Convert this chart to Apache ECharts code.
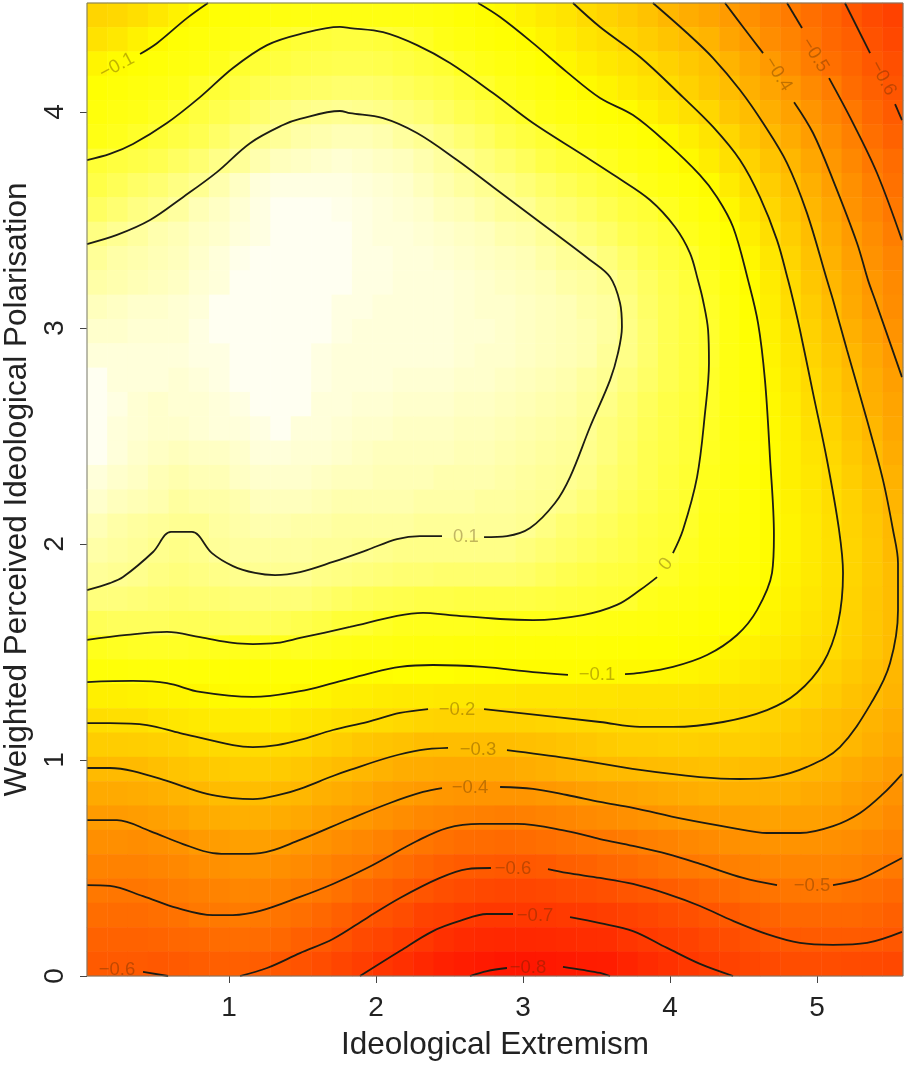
<!DOCTYPE html>
<html>
<head>
<meta charset="utf-8">
<title>Ideological Extremism contour</title>
<script src="https://cdn.jsdelivr.net/npm/echarts@6/dist/echarts.min.js"></script>
<style>
  html, body { margin: 0; padding: 0; background: #fff; }
  #chart-container { width: 907px; height: 1071px; }
</style>
</head>
<body>
<div id="chart-container"></div>
<script>
// fitted surface: 40 rows top to bottom, 40 columns left to right
var zRows = [
[-.22,-.21,-.19,-.16,-.13,-.10,-.08,-.07,-.06,-.05,-.045,-.04,-.04,-.04,-.04,-.045,-.05,-.06,-.08,-.095,-.11,-.13,-.155,-.175,-.2,-.225,-.25,-.275,-.31,-.34,-.365,-.395,-.43,-.465,-.495,-.53,-.565,-.605,-.64,-.67],
[-.18,-.16,-.13,-.105,-.08,-.065,-.05,-.035,-.02,0,.01,.015,.02,.02,.015,.005,-.01,-.03,-.05,-.07,-.085,-.10,-.125,-.145,-.17,-.19,-.22,-.245,-.27,-.295,-.32,-.365,-.395,-.44,-.47,-.51,-.55,-.58,-.62,-.65],
[-.12,-.10,-.085,-.07,-.055,-.04,-.02,0,.01,.02,.03,.035,.04,.04,.035,.025,.015,.005,-.015,-.03,-.05,-.07,-.09,-.115,-.14,-.16,-.18,-.20,-.23,-.255,-.28,-.32,-.36,-.40,-.445,-.49,-.53,-.56,-.60,-.63],
[-.085,-.07,-.055,-.04,-.025,-.005,.01,.025,.04,.05,.055,.06,.065,.065,.06,.05,.04,.03,.015,0,-.02,-.04,-.06,-.085,-.105,-.125,-.15,-.17,-.195,-.23,-.26,-.29,-.33,-.365,-.405,-.45,-.49,-.54,-.575,-.61],
[-.06,-.045,-.03,-.015,0,.02,.035,.05,.065,.08,.09,.095,.10,.095,.09,.08,.07,.055,.04,.025,.01,-.01,-.03,-.05,-.07,-.085,-.10,-.13,-.16,-.185,-.215,-.26,-.29,-.335,-.375,-.415,-.46,-.505,-.55,-.59],
[-.035,-.02,-.005,.01,.025,.04,.06,.08,.095,.105,.115,.12,.125,.125,.12,.11,.10,.085,.07,.055,.035,.02,.005,-.015,-.035,-.05,-.065,-.085,-.11,-.14,-.175,-.215,-.26,-.30,-.345,-.39,-.435,-.48,-.53,-.57],
[.01,.02,.03,.04,.055,.07,.09,.105,.12,.13,.135,.14,.145,.14,.135,.13,.12,.11,.095,.08,.065,.05,.03,.015,.005,-.015,-.035,-.055,-.08,-.11,-.145,-.185,-.225,-.27,-.31,-.36,-.41,-.455,-.505,-.54],
[.03,.045,.06,.07,.085,.10,.12,.135,.15,.155,.155,.155,.155,.15,.145,.14,.13,.12,.11,.10,.09,.075,.06,.045,.03,.015,0,-.025,-.05,-.075,-.10,-.15,-.195,-.24,-.285,-.33,-.385,-.43,-.48,-.525],
[.055,.07,.085,.095,.11,.125,.135,.145,.155,.165,.165,.165,.16,.155,.15,.145,.14,.13,.125,.115,.105,.10,.08,.07,.055,.04,.02,.01,-.015,-.045,-.075,-.115,-.165,-.215,-.26,-.31,-.36,-.42,-.46,-.505],
[.085,.10,.11,.12,.125,.135,.14,.15,.155,.165,.165,.165,.165,.155,.15,.15,.145,.14,.135,.13,.12,.115,.105,.09,.075,.06,.04,.025,.01,-.02,-.05,-.09,-.14,-.19,-.24,-.29,-.345,-.395,-.44,-.485],
[.105,.115,.12,.125,.13,.14,.15,.16,.165,.165,.165,.165,.165,.155,.155,.15,.15,.145,.14,.135,.13,.125,.115,.105,.10,.08,.06,.04,.02,.005,-.03,-.07,-.115,-.165,-.22,-.275,-.325,-.38,-.425,-.465],
[.115,.12,.125,.13,.135,.145,.15,.165,.165,.165,.165,.165,.165,.155,.155,.15,.15,.15,.145,.14,.135,.13,.125,.115,.11,.10,.075,.055,.035,.015,-.015,-.055,-.10,-.15,-.205,-.26,-.31,-.36,-.41,-.45],
[.13,.135,.14,.14,.145,.15,.165,.165,.165,.165,.165,.165,.155,.155,.15,.15,.15,.15,.145,.14,.14,.135,.13,.125,.115,.11,.085,.06,.04,.02,-.005,-.045,-.09,-.14,-.195,-.245,-.295,-.35,-.395,-.44],
[.14,.14,.145,.145,.145,.155,.165,.165,.165,.165,.165,.165,.155,.15,.15,.15,.15,.15,.145,.145,.14,.135,.13,.125,.12,.11,.09,.065,.04,.02,0,-.04,-.085,-.13,-.18,-.23,-.28,-.33,-.375,-.42],
[.15,.15,.15,.15,.15,.155,.155,.165,.165,.165,.165,.155,.15,.15,.15,.15,.15,.15,.145,.14,.14,.135,.13,.125,.12,.105,.09,.065,.04,.02,0,-.04,-.075,-.125,-.17,-.22,-.265,-.31,-.355,-.40],
[.165,.15,.15,.15,.145,.15,.155,.165,.165,.165,.165,.155,.15,.15,.15,.145,.145,.145,.14,.14,.135,.13,.125,.12,.11,.10,.08,.06,.04,.02,-.005,-.04,-.075,-.115,-.16,-.205,-.25,-.295,-.34,-.385],
[.165,.155,.145,.14,.145,.145,.15,.155,.165,.165,.165,.15,.15,.145,.145,.14,.14,.14,.135,.135,.13,.125,.12,.115,.105,.09,.07,.05,.03,.015,-.005,-.04,-.07,-.11,-.15,-.195,-.24,-.28,-.33,-.37],
[.165,.15,.145,.14,.14,.145,.15,.15,.155,.165,.15,.15,.145,.14,.14,.135,.135,.135,.13,.13,.125,.12,.115,.11,.10,.08,.065,.045,.03,.01,-.01,-.04,-.07,-.105,-.14,-.185,-.225,-.27,-.31,-.36],
[.165,.15,.14,.135,.13,.135,.135,.14,.15,.15,.145,.145,.14,.135,.13,.13,.13,.13,.125,.125,.12,.115,.11,.105,.095,.08,.06,.04,.025,.01,-.015,-.04,-.065,-.10,-.135,-.175,-.21,-.255,-.295,-.345],
[.15,.14,.135,.125,.12,.125,.125,.135,.14,.14,.14,.135,.13,.13,.125,.125,.125,.12,.12,.12,.115,.11,.105,.10,.09,.07,.055,.04,.02,.005,-.02,-.045,-.07,-.10,-.135,-.165,-.20,-.24,-.28,-.325],
[.14,.13,.125,.12,.11,.115,.115,.12,.13,.13,.13,.125,.12,.12,.12,.12,.115,.115,.115,.11,.11,.105,.10,.09,.075,.06,.045,.03,.015,0,-.025,-.045,-.07,-.10,-.13,-.16,-.195,-.23,-.27,-.315],
[.125,.115,.11,.105,.10,.10,.11,.115,.12,.12,.115,.115,.11,.11,.11,.11,.105,.105,.105,.105,.105,.10,.085,.07,.06,.05,.035,.02,.01,-.005,-.03,-.05,-.07,-.10,-.125,-.155,-.19,-.225,-.26,-.305],
[.115,.11,.105,.095,.09,.095,.105,.11,.11,.11,.11,.105,.105,.10,.095,.09,.09,.09,.09,.09,.09,.08,.07,.06,.05,.04,.03,.015,.005,-.015,-.035,-.055,-.075,-.10,-.125,-.155,-.185,-.22,-.255,-.30],
[.105,.10,.095,.085,.08,.085,.09,.095,.10,.10,.10,.09,.085,.08,.075,.07,.07,.065,.065,.065,.065,.06,.05,.04,.03,.02,.015,.005,-.01,-.025,-.045,-.065,-.08,-.10,-.13,-.155,-.185,-.22,-.255,-.29],
[.08,.08,.075,.07,.065,.07,.07,.075,.075,.075,.075,.065,.055,.045,.04,.035,.03,.03,.025,.025,.025,.025,.02,.015,.01,.005,0,-.02,-.03,-.045,-.06,-.08,-.09,-.115,-.14,-.165,-.19,-.225,-.26,-.29],
[.045,.05,.05,.05,.045,.045,.045,.05,.05,.045,.035,.025,.01,.005,-.01,-.02,-.02,-.02,-.02,-.025,-.03,-.03,-.03,-.03,-.035,-.04,-.05,-.055,-.065,-.07,-.085,-.09,-.10,-.125,-.15,-.175,-.195,-.23,-.26,-.29],
[-.02,-.015,-.01,-.01,-.01,-.015,-.02,-.02,-.02,-.02,-.015,-.02,-.03,-.04,-.045,-.055,-.06,-.06,-.065,-.065,-.07,-.07,-.075,-.075,-.075,-.08,-.085,-.09,-.09,-.095,-.10,-.12,-.13,-.145,-.165,-.19,-.205,-.235,-.265,-.295],
[-.07,-.07,-.065,-.065,-.07,-.075,-.08,-.08,-.08,-.08,-.08,-.085,-.09,-.095,-.095,-.09,-.09,-.09,-.095,-.095,-.10,-.10,-.10,-.10,-.10,-.105,-.11,-.11,-.115,-.12,-.13,-.14,-.155,-.17,-.185,-.205,-.23,-.255,-.28,-.31],
[-.135,-.135,-.13,-.125,-.12,-.115,-.105,-.10,-.10,-.10,-.115,-.12,-.135,-.14,-.15,-.155,-.155,-.16,-.16,-.165,-.165,-.17,-.17,-.17,-.175,-.175,-.18,-.18,-.18,-.18,-.185,-.19,-.195,-.195,-.20,-.225,-.25,-.275,-.295,-.32],
[-.195,-.19,-.19,-.175,-.165,-.155,-.15,-.15,-.145,-.15,-.165,-.175,-.185,-.195,-.20,-.21,-.22,-.225,-.225,-.225,-.225,-.225,-.22,-.215,-.21,-.205,-.205,-.20,-.20,-.20,-.20,-.205,-.22,-.23,-.245,-.265,-.285,-.30,-.32,-.345],
[-.245,-.245,-.24,-.235,-.225,-.21,-.205,-.20,-.20,-.205,-.21,-.23,-.245,-.26,-.27,-.28,-.29,-.29,-.29,-.29,-.29,-.285,-.28,-.27,-.26,-.25,-.24,-.24,-.235,-.235,-.24,-.24,-.24,-.25,-.26,-.27,-.29,-.31,-.335,-.36],
[-.30,-.30,-.30,-.285,-.27,-.26,-.25,-.245,-.245,-.25,-.26,-.28,-.295,-.31,-.325,-.34,-.345,-.35,-.35,-.35,-.35,-.34,-.33,-.32,-.31,-.30,-.30,-.295,-.29,-.285,-.28,-.285,-.29,-.295,-.30,-.31,-.325,-.35,-.37,-.39],
[-.35,-.35,-.345,-.335,-.32,-.31,-.295,-.29,-.29,-.30,-.31,-.33,-.345,-.36,-.38,-.39,-.40,-.41,-.415,-.415,-.415,-.415,-.405,-.395,-.385,-.375,-.37,-.36,-.35,-.34,-.33,-.33,-.33,-.33,-.335,-.35,-.36,-.38,-.395,-.42],
[-.395,-.395,-.39,-.38,-.37,-.35,-.34,-.335,-.335,-.345,-.355,-.375,-.39,-.405,-.425,-.44,-.455,-.465,-.475,-.48,-.485,-.48,-.47,-.46,-.45,-.44,-.43,-.42,-.41,-.395,-.39,-.385,-.38,-.375,-.38,-.38,-.39,-.405,-.42,-.445],
[-.435,-.435,-.44,-.43,-.42,-.40,-.39,-.38,-.38,-.39,-.405,-.42,-.44,-.455,-.475,-.495,-.51,-.525,-.535,-.54,-.545,-.54,-.53,-.52,-.51,-.505,-.495,-.48,-.47,-.455,-.445,-.43,-.425,-.42,-.42,-.425,-.43,-.44,-.455,-.47],
[-.47,-.475,-.475,-.465,-.455,-.44,-.43,-.42,-.42,-.435,-.445,-.465,-.485,-.495,-.52,-.54,-.56,-.58,-.59,-.595,-.60,-.60,-.595,-.58,-.57,-.555,-.545,-.53,-.515,-.505,-.495,-.48,-.475,-.465,-.465,-.465,-.465,-.47,-.485,-.50],
[-.505,-.51,-.51,-.50,-.49,-.48,-.47,-.46,-.465,-.475,-.49,-.505,-.525,-.55,-.57,-.59,-.61,-.63,-.64,-.65,-.655,-.655,-.65,-.64,-.635,-.625,-.61,-.60,-.585,-.57,-.555,-.54,-.525,-.515,-.51,-.51,-.51,-.52,-.53,-.545],
[-.535,-.54,-.54,-.53,-.52,-.505,-.50,-.495,-.50,-.515,-.53,-.55,-.575,-.60,-.615,-.635,-.665,-.675,-.69,-.70,-.70,-.70,-.70,-.695,-.69,-.68,-.67,-.655,-.64,-.625,-.61,-.595,-.575,-.565,-.55,-.55,-.55,-.55,-.56,-.575],
[-.57,-.57,-.57,-.565,-.555,-.55,-.54,-.535,-.54,-.55,-.575,-.59,-.615,-.645,-.66,-.68,-.70,-.725,-.74,-.745,-.75,-.75,-.745,-.74,-.735,-.73,-.71,-.695,-.68,-.67,-.65,-.635,-.62,-.605,-.595,-.59,-.59,-.59,-.595,-.605],
[-.595,-.595,-.595,-.60,-.595,-.585,-.58,-.58,-.585,-.60,-.615,-.635,-.66,-.68,-.705,-.725,-.75,-.77,-.78,-.79,-.80,-.80,-.795,-.79,-.785,-.78,-.76,-.74,-.72,-.70,-.685,-.67,-.655,-.645,-.635,-.635,-.635,-.64,-.645,-.65]
];

// contour traces as [x, y] in axis units, one list per unbroken piece of line
var level_p01 = [[.034,1.787],[.19,1.819],[.279,1.847],[.483,1.963],[.605,2.056],[.748,2.056],[.884,1.958],[1.027,1.898],[1.177,1.866],[1.313,1.856],[1.483,1.87],[1.707,1.917],[1.939,1.972],[2.143,2.023],[2.299,2.037],[2.449,2.037]];
var level_p01b = [[2.735,2.032],[2.891,2.037],[3.048,2.074],[3.218,2.19],[3.32,2.31],[3.456,2.542],[3.592,2.759],[3.646,2.884],[3.673,3.005],[3.66,3.116],[3.592,3.236],[3.456,3.315],[3.068,3.514],[2.796,3.653],[2.551,3.778],[2.279,3.903],[2.048,3.972],[1.823,3.995],[1.755,4.005],[1.483,3.968],[1.367,3.94],[1.143,3.856],[.918,3.722],[.687,3.606],[.463,3.5],[.238,3.431],[.034,3.389]];
var level_00 = [[.034,1.556],[.306,1.579],[.578,1.593],[.803,1.569],[1.027,1.542],[1.163,1.537],[1.327,1.542],[1.483,1.565],[1.823,1.616],[2.143,1.667],[2.32,1.681],[2.503,1.671],[2.844,1.653],[3.068,1.648],[3.408,1.671],[3.639,1.718],[3.796,1.787],[3.912,1.847]];
var level_00b = [[4.02,1.958],[4.088,2.065],[4.184,2.31],[4.238,2.606],[4.265,2.838],[4.259,2.991],[4.224,3.13],[4.19,3.222],[4.136,3.347],[4.034,3.468],[3.864,3.593],[3.639,3.699],[3.408,3.801],[3.068,3.949],[2.796,4.088],[2.503,4.227],[2.279,4.31],[2.048,4.37],[1.823,4.389],[1.755,4.394],[1.483,4.361],[1.259,4.31],[1.027,4.204],[.803,4.069],[.578,3.949],[.347,3.852],[.19,3.806],[.034,3.778]];
var level_m01a = [[.395,4.269],[.51,4.319],[.714,4.435],[.857,4.505]];
var level_m01 = [[.034,1.361],[.347,1.366],[.578,1.356],[.803,1.315],[1.163,1.292],[1.483,1.319],[1.707,1.356],[1.939,1.398],[2.163,1.431],[2.388,1.44],[2.728,1.431],[3.068,1.407],[3.306,1.394]];
var level_m01b = [[3.694,1.398],[3.796,1.403],[4.02,1.431],[4.252,1.486],[4.456,1.579],[4.592,1.694],[4.694,1.866],[4.707,2.042],[4.68,2.403],[4.646,2.759],[4.599,3.023],[4.531,3.222],[4.429,3.468],[4.32,3.606],[4.204,3.708],[3.98,3.856],[3.748,3.986],[3.524,4.065],[3.299,4.185],[3.068,4.319],[2.844,4.44],[2.694,4.505]];
var level_m02 = [[.034,1.171],[.19,1.171],[.442,1.162],[.667,1.125],[1.027,1.069],[1.163,1.06],[1.327,1.069],[1.483,1.093],[1.707,1.139],[1.939,1.176],[2.163,1.218],[2.354,1.236]];
var level_m02b = [[2.735,1.236],[3.524,1.176],[3.796,1.153],[4.02,1.153],[4.361,1.176],[4.66,1.231],[4.864,1.31],[5.041,1.449],[5.143,1.634],[5.177,1.866],[5.15,2.065],[5.068,2.389],[4.973,2.699],[4.884,2.991],[4.837,3.13],[4.803,3.222],[4.728,3.407],[4.612,3.606],[4.476,3.778],[4.293,3.931],[4.088,4.069],[3.796,4.255],[3.524,4.394],[3.34,4.505]];
var level_m03 = [[.034,.963],[.19,.963],[.347,.949],[.578,.903],[.85,.843],[1.027,.824],[1.163,.819],[1.367,.843],[1.483,.866],[1.707,.926],[1.823,.954],[2.095,1.014],[2.299,1.046],[2.49,1.056]];
var level_m03b = [[2.891,1.046],[3.299,1.009],[3.796,.954],[4.204,.921],[4.476,.912],[4.701,.921],[4.932,.968],[5.156,1.06],[5.381,1.278],[5.497,1.449],[5.551,1.694],[5.551,1.912],[5.517,2.065],[5.449,2.296],[5.34,2.574],[5.204,2.898],[5.109,3.13],[5.068,3.222],[4.932,3.532],[4.796,3.764],[4.633,3.949],[4.476,4.102],[4.293,4.25],[4.116,4.366],[3.884,4.505]];
var level_m04a = [[4.374,4.505],[4.497,4.394],[4.633,4.273]];
var level_m04b = [[4.844,4.046],[4.973,3.903],[5.109,3.685],[5.272,3.394],[5.347,3.222],[5.395,3.13],[5.578,2.773]];
var level_m04 = [[.034,.722],[.238,.722],[.463,.671],[.687,.611],[.891,.569],[1.027,.565],[1.211,.569],[1.483,.63],[1.823,.727],[2.095,.801],[2.32,.852],[2.449,.87]];
var level_m04c = [[2.844,.875],[3.068,.866],[3.299,.838],[3.524,.806],[3.748,.778],[4.088,.727],[4.429,.685],[4.66,.662],[4.884,.662],[5.109,.694],[5.293,.755],[5.449,.843],[5.578,.935]];
var level_m05a = [[4.796,4.505],[4.898,4.389]];
var level_m05b = [[5.082,4.157],[5.245,3.949],[5.408,3.718],[5.578,3.407]];
var level_m05 = [[.034,.421],[.19,.417],[.415,.37],[.646,.315],[.891,.282],[1.027,.282],[1.211,.301],[1.483,.366],[1.707,.426],[1.939,.5],[2.279,.625],[2.483,.685],[2.707,.704],[2.959,.704],[3.299,.671],[3.524,.634],[3.748,.602],[3.98,.565],[4.204,.519],[4.497,.454],[4.728,.421]];
var level_m05c = [[5.109,.421],[5.293,.449],[5.449,.5],[5.578,.546]];
var level_m06a = [[5.19,4.505],[5.361,4.273]];
var level_m06b = [[5.531,4.037],[5.578,3.963]];
var level_m06c = [[.415,.019],[.585,0]];
var level_m06 = [[1.075,0],[1.259,.037],[1.483,.106],[1.707,.171],[1.939,.269],[2.163,.361],[2.435,.454],[2.619,.495],[2.782,.5]];
var level_m06d = [[3.17,.495],[3.299,.477],[3.524,.454],[3.748,.426],[3.98,.38],[4.204,.324],[4.429,.255],[4.66,.194],[4.884,.153],[5.109,.144],[5.34,.153],[5.578,.204]];
var level_m07 = [[1.891,0],[2.163,.116],[2.388,.208],[2.571,.255],[2.755,.287],[2.932,.287]];
var level_m07b = [[3.32,.273],[3.524,.245],[3.748,.208],[3.98,.13],[4.204,.056],[4.429,0]];
var level_m08 = [[2.639,0],[2.755,.023],[2.891,.037]];
var level_m08b = [[3.272,.042],[3.408,.028],[3.524,.014],[3.592,0]];

var contourPieces = [level_p01, level_p01b, level_00, level_00b, level_m01a, level_m01, level_m01b, level_m02, level_m02b, level_m03, level_m03b, level_m04a, level_m04b, level_m04, level_m04c, level_m05a, level_m05b, level_m05, level_m05c, level_m06a, level_m06b, level_m06c, level_m06, level_m06d, level_m07, level_m07b, level_m08, level_m08b];

// inline labels of the contours: x, y, text, slope
var labelX = [.238, 4.735, 4.986, 5.449, 3.973, 2.612, 3.503, 2.551, 2.694, 2.639, 2.932, 3.082, 3.034, 4.966, .238];
var labelY = [4.213, 4.176, 4.264, 4.157, 1.907, 2.032, 1.394, 1.231, 1.046, .870, .495, .278, .037, .417, .028];
var labelText = ["−0.1", "−0.4", "−0.5", "−0.6", "0", "0.1", "−0.1", "−0.2", "−0.3", "−0.4", "−0.6", "−0.7", "−0.8", "−0.5", "−0.6"];
var labelAngle = [28, -58, -58, -62, 55, 0, 0, 0, 0, 0, 0, 0, 0, 0, 0];

var xTicks = [1, 2, 3, 4, 5];
var yTicks = [0, 1, 2, 3, 4];

var dom = document.getElementById("chart-container");
var myChart = echarts.init(dom, null, { renderer: "canvas" });

var cells = [];
zRows.forEach(function (row, r) {
  row.forEach(function (z, c) {
    cells.push([c, zRows.length - 1 - r, z]);
  });
});
var xCells = zRows[0].map(function (_, i) { return i; });
var yCells = zRows.map(function (_, i) { return i; });

var fontName = "Liberation Sans";
// v6 shrinks grids to fit labels unless told not to
var plotRect = { left: 87, right: 4, top: 3, bottom: 95, outerBoundsMode: "none" };

var series = [
  {
    type: "heatmap",
    xAxisIndex: 0,
    yAxisIndex: 0,
    data: cells,
    z: 1,
    silent: true,
    progressive: 0,
  },
];
contourPieces.forEach(function (piece) {
  series.push({
    type: "line",
    xAxisIndex: 1,
    yAxisIndex: 1,
    data: piece,
    showSymbol: false,
    smooth: 0.35,
    z: 3,
    silent: true,
    lineStyle: { color: "#1c1c14", width: 1.8 },
  });
});
series.push({
  type: "scatter",
  xAxisIndex: 1,
  yAxisIndex: 1,
  symbolSize: 1,
  z: 4,
  silent: true,
  itemStyle: { color: "transparent" },
  data: labelX.map(function (x, i) {
    return {
      value: [x, labelY[i]],
      label: {
        show: true,
        position: "inside",
        formatter: labelText[i],
        rotate: labelAngle[i],
        fontFamily: fontName,
        fontSize: 18.5,
        color: "rgba(70,40,0,0.42)",
      },
    };
  }),
});

var option = {
  animation: false,
  backgroundColor: "#fff",
  grid: [
    plotRect,
    Object.assign({ show: true, z: 5, borderColor: "#77776a", borderWidth: 1, backgroundColor: "transparent" }, plotRect),
  ],
  xAxis: [
    { type: "category", gridIndex: 0, data: xCells, show: false },
    {
      type: "value",
      gridIndex: 1,
      min: 0.034,
      max: 5.585,
      name: "Ideological Extremism",
      nameLocation: "middle",
      nameGap: 53,
      nameTextStyle: { fontFamily: fontName, fontSize: 31.5, color: "#222" },
      splitLine: { show: false },
      axisLine: { show: false },
      axisTick: { show: true, length: 7, lineStyle: { color: "#444" }, customValues: xTicks },
      axisLabel: { fontFamily: fontName, fontSize: 28, color: "#222", margin: 18, customValues: xTicks },
    },
  ],
  yAxis: [
    { type: "category", gridIndex: 0, data: yCells, show: false },
    {
      type: "value",
      gridIndex: 1,
      min: 0,
      max: 4.505,
      name: "Weighted Perceived Ideological Polarisation",
      nameLocation: "middle",
      nameGap: 50,
      nameTextStyle: { fontFamily: fontName, fontSize: 31.5, color: "#222" },
      splitLine: { show: false },
      axisLine: { show: false },
      axisTick: { show: true, length: 7, lineStyle: { color: "#444" }, customValues: yTicks },
      axisLabel: { fontFamily: fontName, fontSize: 28, color: "#222", margin: 18, rotate: 90, customValues: yTicks },
    },
  ],
  visualMap: {
    show: false,
    seriesIndex: 0,
    dimension: 2,
    min: -0.87,
    max: 0.17,
    // R heat.colors: red to yellow over three quarters of the range, then a quick fade to near white
    inRange: {
      color: ["#ff0000", "#ff1500", "#ff2b00", "#ff4000", "#ff5500", "#ff6a00", "#ff8000", "#ff9500", "#ffaa00", "#ffbf00", "#ffd500", "#ffea00", "#ffff00", "#ffff18", "#ffff50", "#ffff98", "#fffff8"],
    },
  },
  series: series,
};

myChart.setOption(option);
window.addEventListener("resize", myChart.resize);
</script>
</body>
</html>
